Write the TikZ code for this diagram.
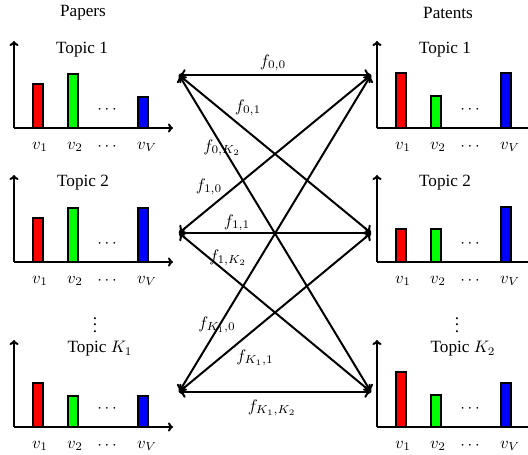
\documentclass[tikz,border=0pt]{standalone}
\usepackage{fontspec}
\setmainfont{Liberation Serif}
\usetikzlibrary{arrows.meta}
\definecolor{barred}{RGB}{255,0,0}
\definecolor{bargreen}{RGB}{0,255,0}
\definecolor{barblue}{RGB}{0,0,255}
\tikzset{
  axisline/.style={line width=1.2pt,-{To[length=3pt,width=5.5pt]}},
  barbox/.style={draw=black,line width=1pt},
  link/.style={line width=1.2pt,{To[length=4pt,width=7pt]}-{To[length=4pt,width=7pt]}},
  lbl/.style={inner sep=1pt,font=\fontsize{10.3}{12}\selectfont},
}
\newcommand{\topicchart}[6]{%
  \begin{scope}[shift={(#1,#2)}]
    \draw[axisline] (0,0) -- (0,-87);
    \draw[axisline] (0,0) -- (159,0);
    \draw[barbox,fill=barred] (19,0) rectangle (29,-#3);
    \draw[barbox,fill=bargreen] (54,0) rectangle (64,-#4);
    \draw[barbox,fill=barblue] (124,0) rectangle (134,-#5);
    \node[lbl] (#6dots) at (93,-18) {$\cdots$};
    \node[lbl] (#6va) at (26,19) {$v_1$};
    \node[lbl] (#6vb) at (61,19) {$v_2$};
    \node[lbl] (#6vc) at (93,19) {$\cdots$};
    \node[lbl] (#6vd) at (133,19) {$v_V$};
  \end{scope}}
\begin{document}
\begin{tikzpicture}[x=0.6pt,y=-0.6pt]
\useasboundingbox (0,0) rectangle (528,455);
% titles
\node[lbl] (papers) at (83,13) {Papers};
\node[lbl] (patents) at (448,13) {Patents};
% left charts
\topicchart{14}{128}{44}{54}{31}{la}
\topicchart{14}{262}{44}{54}{54}{lb}
\topicchart{14}{427}{44}{31}{31}{lc}
\node[lbl] (lta) at (82,50) {Topic 1};
\node[lbl] (ltb) at (83,183) {Topic 2};
\node[lbl] (ltc) at (100,349) {Topic $K_1$};
\node[lbl,inner sep=0pt] (lvd) at (95,320) {$\vdots$};
% right charts
\topicchart{377}{128}{55}{32}{55}{ra}
\topicchart{377}{262}{33}{33}{55}{rb}
\topicchart{377}{427}{55}{32}{44}{rc}
\node[lbl] (rta) at (445,50) {Topic 1};
\node[lbl] (rtb) at (445,183) {Topic 2};
\node[lbl] (rtc) at (463,349) {Topic $K_2$};
\node[lbl,inner sep=0pt] (rvd) at (457,320) {$\vdots$};
% connector ends
\coordinate (L0) at (179,75);
\coordinate (L1) at (179,233);
\coordinate (L2) at (179,392);
\coordinate (R0) at (371,75);
\coordinate (R1) at (371,233);
\coordinate (R2) at (371,392);
\foreach \a in {0,1,2}{
  \foreach \b in {0,1,2}{
    \draw[link] (L\a) -- (R\b);
  }
}
% labels
\node[lbl] (f00) at (273,63) {$f_{0,0}$};
\node[lbl] (f01) at (248,108) {$f_{0,1}$};
\node[lbl] (f0K) at (222,148) {$f_{0,K_2}$};
\node[lbl] (f10) at (209,187) {$f_{1,0}$};
\node[lbl] (f11) at (237,223) {$f_{1,1}$};
\node[lbl] (f1K) at (228,258) {$f_{1,K_2}$};
\node[lbl] (fK0) at (217,325) {$f_{K_1,0}$};
\node[lbl] (fK1) at (255,358) {$f_{K_1,1}$};
\node[lbl] (fKK) at (272,408) {$f_{K_1,K_2}$};
\end{tikzpicture}
\end{document}
